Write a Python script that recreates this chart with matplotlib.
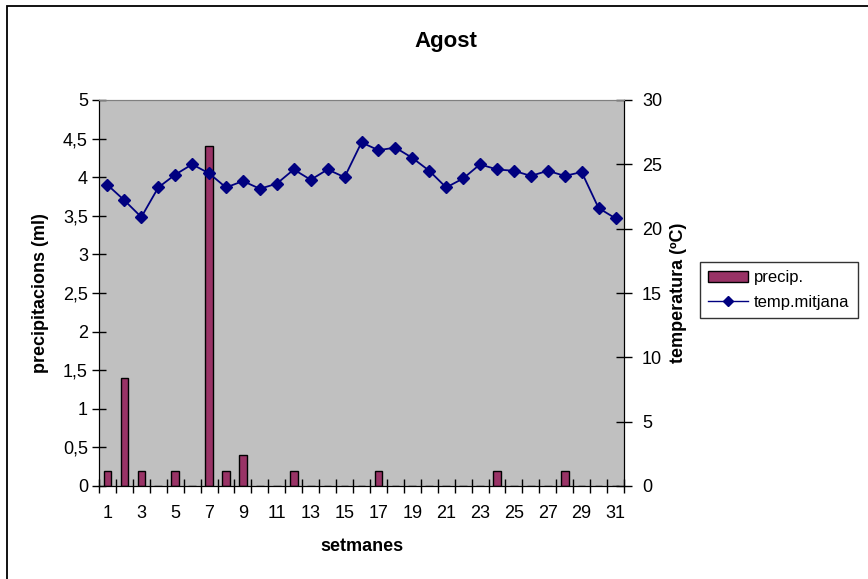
import matplotlib
matplotlib.use("Agg")
import matplotlib.pyplot as plt
from matplotlib.patches import Rectangle
from matplotlib.lines import Line2D
import numpy as np

plt.rcParams['font.family'] = ['Liberation Sans', 'DejaVu Sans']

# setmanes 1..31
weeks = list(range(1, 32))
precip = [0.2, 1.4, 0.2, 0, 0.2, 0, 4.4, 0.2, 0.4, 0, 0, 0.2, 0, 0, 0, 0,
          0.2, 0, 0, 0, 0, 0, 0, 0.2, 0, 0, 0, 0.2, 0, 0, 0]
temp = [23.4, 22.2, 20.9, 23.2, 24.2, 25.0, 24.3, 23.2, 23.7, 23.1, 23.5,
        24.6, 23.8, 24.6, 24.0, 26.7, 26.1, 26.3, 25.5, 24.5, 23.2, 23.9,
        25.0, 24.6, 24.5, 24.1, 24.5, 24.1, 24.4, 21.6, 20.8]
xtick_labels = [str(w) for w in weeks[::2]]

W, H = 868, 579
fig = plt.figure(figsize=(W / 100, H / 100), dpi=100)
fig.patch.set_facecolor('white')

# chart border (cut at right/bottom like the reference)
fig.patches.append(Rectangle((7 / W, -0.05), 1.2, 1 - 6 / H + 0.05,
                             transform=fig.transFigure, fill=False,
                             edgecolor='black', linewidth=1.3))

L, R, T, B = 99, 624, 100, 486
ax = fig.add_axes([L / W, 1 - B / H, (R - L) / W, (B - T) / H])
ax.set_facecolor('#C0C0C0')

bars = ax.bar(weeks, precip, width=0.45, color='#993366', edgecolor='black',
              linewidth=1.0, zorder=2)
ax.set_xlim(0.5, 31.5)
ax.set_ylim(0, 5)
ax.set_yticks(np.arange(0, 5.01, 0.5))
ax.set_yticklabels(['0', '0,5', '1', '1,5', '2', '2,5', '3', '3,5', '4', '4,5', '5'])
ax.set_xticks(weeks[::2])
ax.set_xticklabels(xtick_labels)
ax.set_xticks(np.arange(0.5, 31.6, 1), minor=True)
ax.tick_params(axis='x', which='major', length=0, pad=14, labelsize=13)
ax.tick_params(axis='x', which='minor', direction='inout', length=10, width=1)
ax.tick_params(axis='y', direction='inout', length=10, width=1, pad=3, labelsize=13)

for s in ['left', 'bottom', 'right']:
    ax.spines[s].set_color('black')
ax.spines['top'].set_color('#808080')

ax.set_xlabel('setmanes', fontsize=13, fontweight='bold')
ax.xaxis.set_label_coords(0.5, -0.135)
ax.set_ylabel('precipitacions (ml)', fontsize=13, fontweight='bold')
ax.yaxis.set_label_coords(-0.095, 0.5)

ax2 = ax.twinx()
ax2.patch.set_visible(False)
line, = ax2.plot(weeks, temp, color='#000080', linewidth=1.3, marker='D',
                 markersize=6.5, markerfacecolor='#000080',
                 markeredgecolor='#000080')
ax2.set_ylim(0, 30)
ax2.set_yticks(range(0, 31, 5))
ax2.tick_params(axis='y', direction='inout', length=12, width=1, pad=7, labelsize=13)
ax2.spines['top'].set_color('#808080')
ax2.spines['right'].set_color('black')
ax2.set_ylabel('temperatura (ºC)', fontsize=13, fontweight='bold')
ax2.yaxis.set_label_coords(1.088, 0.5)

fig.text(446 / W, 1 - 41 / H, 'Agost', fontsize=16, fontweight='bold',
         ha='center', va='center')

handles = [Rectangle((0, 0), 1, 1, facecolor='#993366', edgecolor='black'),
           Line2D([], [], color='#000080', marker='D', markersize=5, linewidth=1)]
leg = fig.legend(handles, ['precip.', 'temp.mitjana'], loc='upper left',
                 bbox_to_anchor=(700 / W, 1 - 262 / H), fontsize=12,
                 frameon=True, fancybox=False, handlelength=2.4,
                 borderpad=0.5, labelspacing=0.55, handletextpad=0.35,
                 borderaxespad=0)
leg.get_frame().set_edgecolor('black')
leg.get_frame().set_linewidth(1.0)

fig.savefig('out.png', dpi=100)
